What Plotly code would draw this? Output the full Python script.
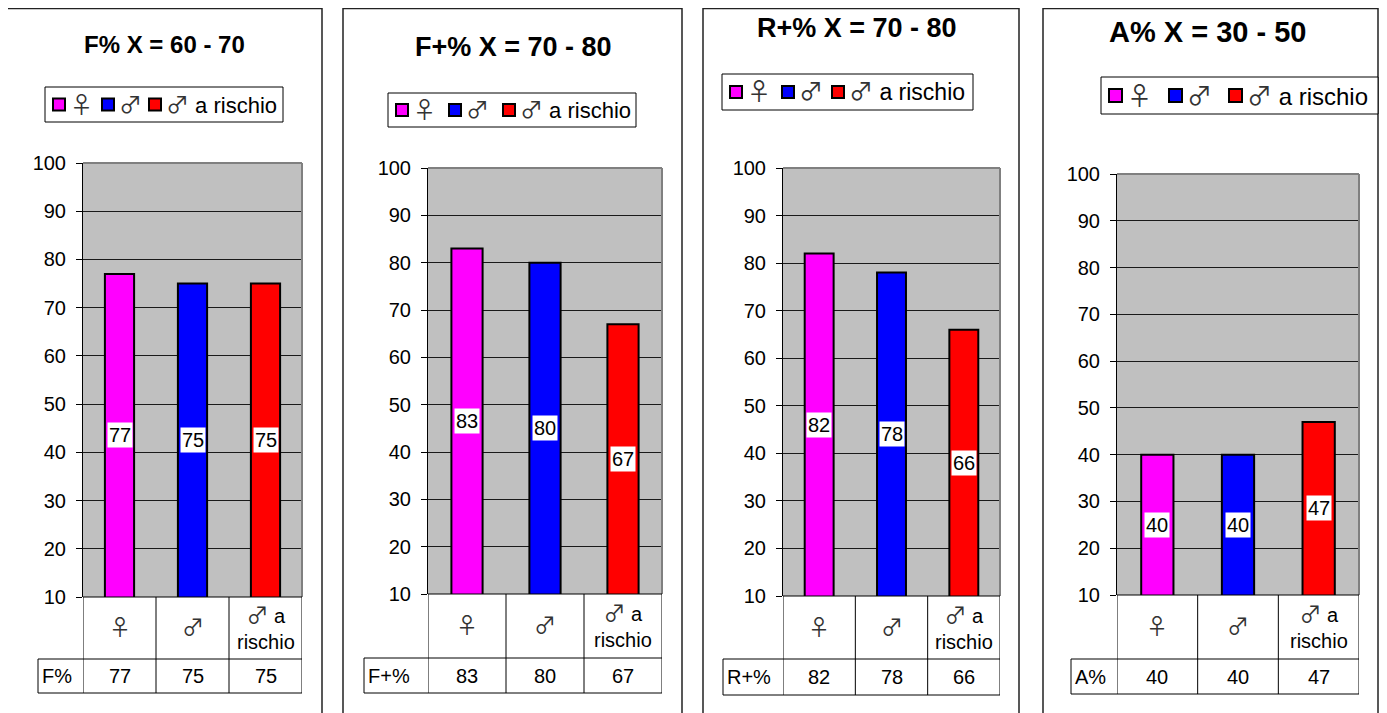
import plotly.graph_objects as go

# ---------------- data ----------------
categories = ["\u2640", "\u2642", "\u2642 a rischio"]
series_colors = ["#FF00FF", "#0000FF", "#FF0000"]

titles = ["F% X = 60 - 70", "F+% X = 70 - 80", "R+% X = 70 - 80", "A% X = 30 - 50"]
row_labels = ["F%", "F+%", "R+%", "A%"]
values_f = [77, 75, 75]
values_fplus = [83, 80, 67]
values_rplus = [82, 78, 66]
values_a = [40, 40, 47]
panel_values = [values_f, values_fplus, values_rplus, values_a]

y_ticks = [10, 20, 30, 40, 50, 60, 70, 80, 90, 100]

# ---------------- layout geometry (reference pixels) ----------------
W, H = 1387, 713
OFF = 8  # page body margin
FW, FH = W - OFF, H - OFF

geom = [
    dict(box=(7, 8, 322), title=(164, 45, 24),
         legend=dict(box=(45, 87, 283, 122), sq=[52, 101, 148], size=14, font=22, sym=23),
         plot=(83, 163, 302, 597), lab_left=38, row_break=659, bottom=693),
    dict(box=(343, 8, 682), title=(513, 47, 27),
         legend=dict(box=(388, 93, 636, 127), sq=[395, 448, 502], size=14, font=22, sym=23),
         plot=(428, 168, 662, 594), lab_left=364, row_break=658, bottom=693),
    dict(box=(703, 3, 1019), title=(857, 28, 27),
         legend=dict(box=(722, 74, 973, 110), sq=[729, 781, 831], size=14, font=23, sym=24),
         plot=(783, 168, 1000, 596), lab_left=723, row_break=659, bottom=695),
    dict(box=(1043, 2, 1378), title=(1207, 32, 29),
         legend=dict(box=(1101, 77, 1378, 114), sq=[1108, 1168, 1228], size=15, font=24, sym=25),
         plot=(1117, 174, 1359, 595), lab_left=1071, row_break=659, bottom=694),
]


def X(p):
    return (p - OFF) / FW


def Y(p):
    return 1 - (max(p - OFF, 0.6)) / FH


FONT = "Arial, Liberation Sans, sans-serif"
SYMFONT = "Noto Sans CJK JP"


def fmt_label(label, size, br=False):
    """Render the gender symbols with a font that has full-size, thin glyphs."""
    out = []
    for ch in label:
        if ch in "\u2640\u2642":
            out.append(f'<span style="font-family:{SYMFONT};font-size:{size}px;color:#333333">{ch}</span>')
        else:
            out.append(ch)
    s = "".join(out)
    if br:
        s = s.replace(" a ", " a<br>")
    return s


fig = go.Figure()
shapes = []
annotations = []
layout_axes = {}
black = dict(color="black", width=1)

for i, (g, vals) in enumerate(zip(geom, panel_values)):
    n = i + 1
    xa = "x" if n == 1 else f"x{n}"
    ya = "y" if n == 1 else f"y{n}"
    l, t, r, b = g["plot"]

    for c, v, col in zip(categories, vals, series_colors):
        fig.add_trace(go.Bar(
            x=[c], y=[v], name=c, marker=dict(color=col, line=dict(color="black", width=2)),
            width=0.4, xaxis=xa, yaxis=ya, showlegend=False, hoverinfo="x+y",
        ))
        # data label centred in the visible part of the bar
        annotations.append(dict(
            x=c, y=(v + y_ticks[0]) / 2, xref=xa, yref=ya, text=str(v), showarrow=False,
            font=dict(family=FONT, size=20, color="black"), bgcolor="white", borderpad=1,
        ))

    layout_axes["xaxis" if n == 1 else f"xaxis{n}"] = dict(
        domain=[X(l), X(r)], anchor=ya, type="category", categoryorder="array",
        categoryarray=categories, range=[-0.5, 2.5], showticklabels=False,
        showgrid=False, zeroline=False, showline=False, ticks="", fixedrange=True,
        automargin=False,
    )
    layout_axes["yaxis" if n == 1 else f"yaxis{n}"] = dict(
        domain=[Y(b), Y(t)], anchor=xa, range=[10, 100], tickvals=y_ticks,
        showgrid=True, gridcolor="#1a1a1a", gridwidth=1, zeroline=False,
        showline=True, linecolor="black", linewidth=1, ticks="outside", ticklen=6,
        tickcolor="black", tickfont=dict(family=FONT, size=20, color="black"),
        ticklabelstandoff=6, fixedrange=True, automargin=False,
    )

    # gray frame of plot area (top + right)
    shapes.append(dict(type="line", xref=f"{xa} domain", yref=f"{ya} domain",
                       x0=0, x1=1, y0=1, y1=1, line=dict(color="#808080", width=2)))
    shapes.append(dict(type="line", xref=f"{xa} domain", yref=f"{ya} domain",
                       x0=1, x1=1, y0=0, y1=1, line=dict(color="#808080", width=2)))

    # panel border
    bl, bt, br_ = g["box"]
    shapes.append(dict(type="rect", xref="paper", yref="paper", x0=X(bl), x1=X(br_),
                       y0=Y(bt), y1=-0.1, line=dict(color="#222222", width=1.5)))

    # title
    tx, ty, ts = g["title"]
    annotations.append(dict(x=X(tx), y=Y(ty), xref="paper", yref="paper", text=f"<b>{titles[i]}</b>",
                            showarrow=False, font=dict(family=FONT, size=ts, color="black"),
                            xanchor="center", yanchor="middle"))

    # legend (box, coloured squares, labels)
    lg = g["legend"]
    lx0, ly0, lx1, ly1 = lg["box"]
    shapes.append(dict(type="rect", xref="paper", yref="paper", x0=X(lx0), x1=X(lx1),
                       y0=Y(ly0), y1=Y(ly1), line=black, fillcolor="white"))
    cy = (ly0 + ly1) / 2
    s = lg["size"]
    for sqx, c, col in zip(lg["sq"], categories, series_colors):
        shapes.append(dict(type="rect", xref="paper", yref="paper", x0=X(sqx + 1), x1=X(sqx + s - 1),
                           y0=Y(cy - s / 2 + 1), y1=Y(cy + s / 2 - 1),
                           line=dict(color="black", width=2), fillcolor=col))
        annotations.append(dict(x=X(sqx + s + 2), y=Y(cy), xref="paper", yref="paper",
                                text=fmt_label(c, lg["sym"]), showarrow=False, yshift=2,
                                font=dict(family=FONT, size=lg["font"], color="black"),
                                xanchor="left", yanchor="middle"))

    # data table below plot
    rb, bot, lab = g["row_break"], g["bottom"], g["lab_left"]
    shapes.append(dict(type="line", xref="paper", yref="paper", x0=X(l), x1=X(r), y0=Y(b), y1=Y(b), line=black))
    shapes.append(dict(type="line", xref="paper", yref="paper", x0=X(lab), x1=X(r), y0=Y(rb), y1=Y(rb), line=black))
    shapes.append(dict(type="line", xref="paper", yref="paper", x0=X(lab), x1=X(r), y0=Y(bot), y1=Y(bot), line=black))
    shapes.append(dict(type="line", xref="paper", yref="paper", x0=X(lab), x1=X(lab), y0=Y(rb), y1=Y(bot), line=black))
    for k in range(len(categories) + 1):
        shapes.append(dict(type="line", xref=xa, yref="paper", x0=k - 0.5, x1=k - 0.5,
                           y0=Y(b), y1=Y(bot), line=black))
    for c, v in zip(categories, vals):
        annotations.append(dict(x=c, y=Y((b + rb) / 2), xref=xa, yref="paper",
                                text=fmt_label(c, 22, br=True), yshift=3,
                                showarrow=False, font=dict(family=FONT, size=20, color="black"),
                                xanchor="center", yanchor="middle"))
        annotations.append(dict(x=c, y=Y((rb + bot) / 2), xref=xa, yref="paper", text=str(v),
                                showarrow=False, font=dict(family=FONT, size=20, color="black"),
                                xanchor="center", yanchor="middle"))
    annotations.append(dict(x=X(lab + 2), y=Y((rb + bot) / 2), xref="paper", yref="paper",
                            text=row_labels[i], showarrow=False,
                            font=dict(family=FONT, size=20, color="black"),
                            xanchor="left", yanchor="middle"))

fig.update_layout(
    width=FW, height=FH, margin=dict(l=0, r=0, t=0, b=0, autoexpand=False), autosize=False,
    paper_bgcolor="white", plot_bgcolor="#C0C0C0", barmode="overlay", showlegend=False,
    font=dict(family=FONT, color="black"),
    shapes=shapes, annotations=annotations, **layout_axes,
)

fig.write_html("out.html")
